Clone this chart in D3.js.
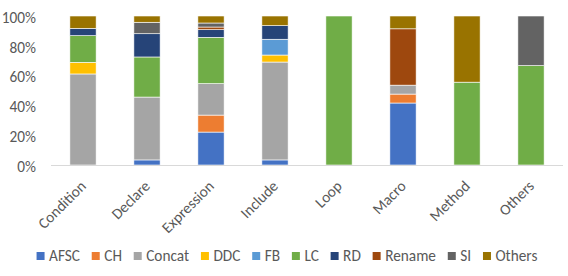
<!DOCTYPE html>
<html><head><meta charset="utf-8">
<script src="https://cdn.jsdelivr.net/npm/d3@7"></script>
<style>body{margin:0;background:#fff}svg{display:block}text{font-family:Carlito,Lato,"Open Sans",sans-serif}</style>
</head><body>
<svg id="c" width="568" height="276"></svg>
<script>
const categories = ["Condition","Declare","Expression","Include","Loop","Macro","Method","Others"];
const seriesNames = ["AFSC","CH","Concat","DDC","FB","LC","RD","Rename","SI","Others"];
const colors = ["#4472C4","#ED7D31","#A5A5A5","#FFC000","#5B9BD5","#70AD47","#264478","#9E480E","#636363","#997300"];
const AFSC   = [0,    0.034,0.221,0.034,0,0.416,0,    0];
const CH     = [0,    0,    0.114,0,    0,0.060,0,    0];
const Concat = [0.611,0.422,0.211,0.657,0,0.060,0,    0];
const DDC    = [0.078,0,    0,    0.047,0,0,    0,    0];
const FB     = [0,    0,    0,    0.106,0,0,    0,    0];
const LC     = [0.179,0.269,0.311,0,    1,0,    0.556,0.667];
const RD     = [0.049,0.156,0.051,0.091,0,0,    0,    0];
const Rename = [0,    0,    0.018,0,    0,0.378,0,    0];
const SI     = [0,    0.077,0.027,0,    0,0,    0,    0.333];
const Others = [0.083,0.042,0.047,0.065,0,0.086,0.444,0];
const yTicks = [0,0.2,0.4,0.6,0.8,1.0];

const seriesData = [AFSC,CH,Concat,DDC,FB,LC,RD,Rename,SI,Others];
const rows = categories.map((c,i)=>{const r={cat:c};seriesNames.forEach((s,j)=>r["s"+j]=seriesData[j][i]);return r;});
const keys = seriesNames.map((s,j)=>"s"+j);
const stack = d3.stack().keys(keys)(rows);

const FONT = "Carlito, Lato, 'Open Sans', sans-serif";
const FS = 15.3;
const svg = d3.select("#c");
const x = d3.scaleBand().domain(categories).range([51,563]).paddingInner(0.59).paddingOuter(0.295);
const y = d3.scaleLinear().domain([0,1]).range([165,16]);

// y axis labels
svg.append("g").selectAll("text").data(yTicks).join("text")
  .attr("x",36).attr("y",d=>y(d)+1.5).attr("dy","0.35em").attr("text-anchor","end")
  .attr("font-size",FS).attr("fill","#595959").text(d=>d3.format(".0%")(d));

// bars
svg.append("g").selectAll("g").data(stack).join("g").attr("fill",(d,i)=>colors[i])
  .selectAll("rect").data(d=>d).join("rect")
  .attr("x",d=>x(d.data.cat)).attr("width",x.bandwidth())
  .attr("y",d=>y(d[1])).attr("height",d=>Math.max(0,y(d[0])-y(d[1])))
  .attr("stroke","#fff").attr("stroke-width",0.6);

// baseline
svg.append("line").attr("x1",51).attr("x2",563).attr("y1",165.5).attr("y2",165.5).attr("stroke","#D9D9D9");

// x axis labels
const xa = svg.append("g").attr("transform","translate(0,165)").call(d3.axisBottom(x).tickSize(0).tickPadding(0));
xa.select(".domain").remove();
xa.selectAll("text").attr("font-size",FS).attr("fill","#595959").attr("font-family",FONT)
  .attr("text-anchor","end").attr("dy",0).attr("y",0)
  .attr("transform","translate(4,22) rotate(-45)");

// legend (centered)
const lg = svg.append("g");
let xp = 0;
seriesNames.forEach((s,i)=>{
  const g = lg.append("g").attr("transform",`translate(${xp},0)`);
  g.append("rect").attr("x",0).attr("y",-4).attr("width",8).attr("height",8).attr("fill",colors[i]);
  const t = g.append("text").attr("x",12.5).attr("y",0).attr("dy","0.35em").attr("font-size",FS).attr("fill","#595959").text(s);
  const w = 12.5 + t.node().getComputedTextLength();
  xp += w + (i < seriesNames.length-1 ? 11.8 : 0);
});
lg.attr("transform",`translate(${287 - xp/2},256)`);
</script>
</body></html>
